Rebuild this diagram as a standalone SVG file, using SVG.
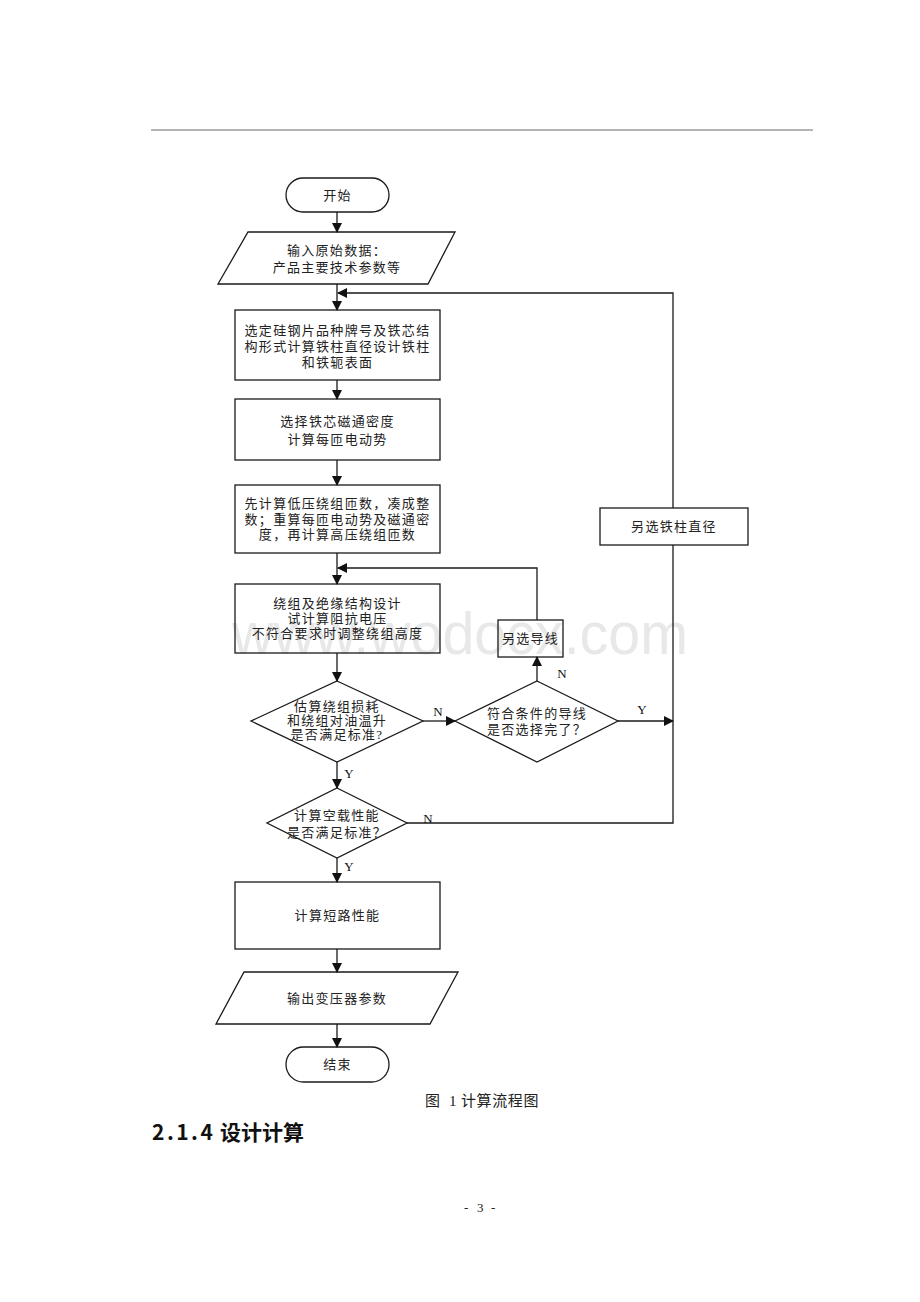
<svg xmlns="http://www.w3.org/2000/svg" width="920" height="1302" viewBox="0 0 920 1302">
<style>
.s{fill:none;stroke:#1a1a1a;stroke-width:1.3}
.t{font-family:"Liberation Serif","Noto Sans CJK SC",serif;font-size:13px;fill:#222;text-anchor:middle;dominant-baseline:central;letter-spacing:1.3px}
.lbl{font-family:"Liberation Serif","Noto Sans CJK SC",serif;font-size:13px;fill:#111;text-anchor:middle;dominant-baseline:central}
.c{fill:none;stroke:#1a1a1a;stroke-width:1.3}
.cap{font-family:"Liberation Serif","Noto Sans CJK SC",serif;fill:#222;dominant-baseline:central}
</style>
<defs>
<marker id="ah" markerWidth="10" markerHeight="10" refX="9" refY="5" orient="auto" markerUnits="userSpaceOnUse">
<path d="M0,0 L10,5 L0,10 Z" fill="#111"/>
</marker>
</defs>
<rect width="920" height="1302" fill="#fff"/>
<line x1="151" y1="130" x2="813" y2="130" stroke="#b4b4b4" stroke-width="2"/>
<text x="460" y="633" font-family="Liberation Sans, Arial, sans-serif" font-size="60" fill="#e8e8e8" text-anchor="middle" dominant-baseline="central" textLength="456" lengthAdjust="spacingAndGlyphs">www.wodocx.com</text>

<g id="start"><rect class="s" x="286" y="178" width="103" height="34" rx="17"/><text class="t" x="337.5" y="195">开始</text></g>
<g id="input"><polygon class="s" points="248,232 455,232 428,284 218,284"/><text class="t" x="337" y="250">输入原始数据：</text><text class="t" x="337" y="267">产品主要技术参数等</text></g>
<g id="box1"><rect class="s" x="235" y="310" width="205" height="70"/><text class="t" x="337.5" y="330">选定硅钢片品种牌号及铁芯结</text><text class="t" x="337.5" y="346">构形式计算铁柱直径设计铁柱</text><text class="t" x="337.5" y="362">和铁轭表面</text></g>
<g id="box2"><rect class="s" x="235" y="399" width="205" height="61"/><text class="t" x="337.5" y="421">选择铁芯磁通密度</text><text class="t" x="337.5" y="439">计算每匝电动势</text></g>
<g id="box3"><rect class="s" x="235" y="485" width="205" height="68"/><text class="t" x="337.5" y="503">先计算低压绕组匝数，凑成整</text><text class="t" x="337.5" y="519">数；重算每匝电动势及磁通密</text><text class="t" x="337.5" y="534">度，再计算高压绕组匝数</text></g>
<g id="box4"><rect class="s" x="235" y="584" width="205" height="69"/><text class="t" x="337.5" y="603">绕组及绝缘结构设计</text><text class="t" x="337.5" y="618">试计算阻抗电压</text><text class="t" x="337.5" y="633">不符合要求时调整绕组高度</text></g>
<g id="dec1"><polygon class="s" points="337,681 423,721 337,762 251,721"/><text class="t" x="337" y="706">估算绕组损耗</text><text class="t" x="337" y="720">和绕组对油温升</text><text class="t" x="337" y="734">是否满足标准?</text></g>
<g id="dec2"><polygon class="s" points="537,681 618,721 537,762 455,721"/><text class="t" x="537" y="713">符合条件的导线</text><text class="t" x="537" y="729">是否选择完了？</text></g>
<g id="altwire"><rect class="s" x="498" y="620" width="65" height="37"/><text class="t" x="530.5" y="638.5">另选导线</text></g>
<g id="altcol"><rect class="s" x="600" y="508" width="148" height="37"/><text class="t" x="674" y="526.5">另选铁柱直径</text></g>
<g id="dec3"><polygon class="s" points="337,788 407,823 337,858 267,823"/><text class="t" x="337" y="815">计算空载性能</text><text class="t" x="337" y="832">是否满足标准？</text></g>
<g id="box5"><rect class="s" x="235" y="882" width="205" height="67"/><text class="t" x="337.5" y="915">计算短路性能</text></g>
<g id="output"><polygon class="s" points="244,972 458,972 430,1024 216,1024"/><text class="t" x="337" y="998">输出变压器参数</text></g>
<g id="end"><rect class="s" x="286" y="1047" width="103" height="35" rx="17.5"/><text class="t" x="337.5" y="1064.5">结束</text></g>

<g id="connectors">
<line class="c" x1="337" y1="212" x2="337" y2="232" marker-end="url(#ah)"/>
<line class="c" x1="337" y1="284" x2="337" y2="310" marker-end="url(#ah)"/>
<polyline class="c" points="673,508 673,293 338,293" marker-end="url(#ah)"/>
<line class="c" x1="337" y1="380" x2="337" y2="399" marker-end="url(#ah)"/>
<line class="c" x1="337" y1="460" x2="337" y2="485" marker-end="url(#ah)"/>
<line class="c" x1="337" y1="553" x2="337" y2="584" marker-end="url(#ah)"/>
<polyline class="c" points="537,620 537,568 338,568" marker-end="url(#ah)"/>
<line class="c" x1="337" y1="653" x2="337" y2="681" marker-end="url(#ah)"/>
<line class="c" x1="423" y1="721" x2="455" y2="721" marker-end="url(#ah)"/>
<line class="c" x1="537" y1="681" x2="537" y2="657" marker-end="url(#ah)"/>
<line class="c" x1="618" y1="721" x2="673" y2="721" marker-end="url(#ah)"/>
<polyline class="c" points="407,823 673,823 673,545"/>
<line class="c" x1="337" y1="762" x2="337" y2="788" marker-end="url(#ah)"/>
<line class="c" x1="337" y1="858" x2="337" y2="882" marker-end="url(#ah)"/>
<line class="c" x1="337" y1="949" x2="337" y2="972" marker-end="url(#ah)"/>
<line class="c" x1="337" y1="1024" x2="337" y2="1047" marker-end="url(#ah)"/>
<text class="lbl" x="438" y="711">N</text>
<text class="lbl" x="562" y="673">N</text>
<text class="lbl" x="642" y="709">Y</text>
<text class="lbl" x="349" y="773">Y</text>
<text class="lbl" x="428" y="818">N</text>
<text class="lbl" x="349" y="866">Y</text>
</g>

<text class="cap" y="1101" font-size="15"><tspan x="425">图</tspan><tspan x="449">1</tspan><tspan x="461" letter-spacing="0.6">计算流程图</tspan></text>
<text x="152" y="1131" font-family="'Noto Sans CJK SC',sans-serif" font-size="21" font-weight="bold" fill="#111" dominant-baseline="central"><tspan letter-spacing="2.5">2.1.4</tspan><tspan> 设计计算</tspan></text>
<text class="cap" y="1207" font-size="13" fill="#333"><tspan x="464">-</tspan><tspan x="477">3</tspan><tspan x="491">-</tspan></text>
</svg>
